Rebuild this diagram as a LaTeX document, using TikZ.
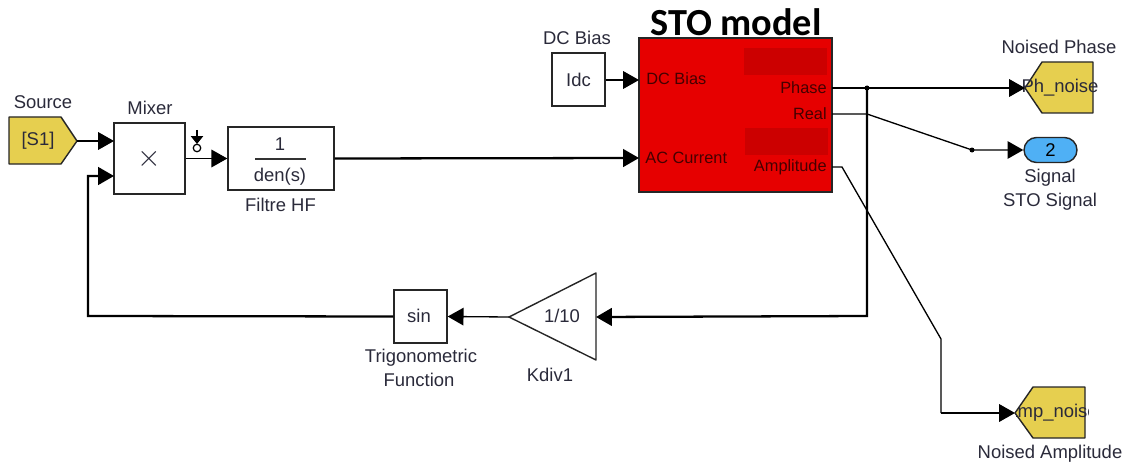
\documentclass[tikz,border=0pt]{standalone}
\usepackage{fontspec}
\setmainfont{Liberation Sans}
\newfontfamily\titlefont{Carlito}
\usepackage{xcolor}
\usetikzlibrary{arrows.meta,shapes.misc}
\definecolor{gotoyellow}{HTML}{E6CF4F}
\definecolor{stored}{HTML}{E60000}
\definecolor{stodark}{HTML}{CC0000}
\definecolor{portblue}{HTML}{4FB0F5}
\definecolor{inkgrey}{HTML}{2A2A3A}
\tikzset{
  block/.style={draw=black!85,line width=0.8pt,fill=white,inner sep=0pt},
  goto/.style={draw=black!85,line width=0.8pt,fill=gotoyellow,line join=round},
  wire/.style={line width=0.75pt,-{Triangle[length=9pt,width=10pt]}},
  wirefat/.style={wire,line width=1.3pt},
  plainwire/.style={line width=0.75pt},
  lbl/.style={font=\fontsize{10.5}{12}\selectfont,text=inkgrey,inner sep=0pt},
  stolbl/.style={font=\fontsize{9.3}{11}\selectfont,text=black!70!stored,inner sep=0pt}
}

\begin{document}
\begin{tikzpicture}[x=0.02cm,y=-0.02cm]
    \useasboundingbox (0,0) rectangle (1129,466);
    % left part
    \draw[goto] (9,117) -- (61,117) -- (77,141) -- (61,164) -- (9,164) -- cycle;
    \coordinate (sourcetip) at (77,141);
    \node[lbl] (sourcetext) at (38,141) {[S1]};
    \node[lbl] (sourcelbl) at (43,102) {Source};
    \node[block,minimum width=1.42cm,minimum height=1.42cm] (mixer) at (149.5,158.5) {};
    \node[inner sep=0pt,text=inkgrey,font=\LARGE] (mixertext) at (149.5,158.5) {$\times$};
    \node[lbl] (mixerlbl) at (150,108) {Mixer};
    \coordinate (mixerin1) at (114,141);
    \coordinate (mixerin2) at (114,176);
    \node[block,minimum width=2.12cm,minimum height=1.26cm] (filter) at (281,158.5) {};
    \node[lbl] (filtertop) at (280,144) {1};
    \node[lbl] (filterbot) at (280,177) {den(s)};
    \coordinate (barleft) at (255,159);
    \coordinate (barright) at (306,159);
    \draw[line width=0.8pt,black!80] (barleft) -- (barright);
    \node[lbl] (filterlbl) at (280.5,205) {Filtre HF};
    \coordinate (probetop) at (197,130);
    \coordinate (probeend) at (197,144);
    \draw[line width=0.7pt,-{Triangle[length=4.5pt,width=7pt]}] (probetop) -- (probeend);
    \node[draw,circle,line width=0.7pt,minimum size=0.15cm,inner sep=0pt] (probe) at (197,148) {};
    % STO block
    \node[block,fill=stored,minimum width=3.86cm,minimum height=3.08cm] (sto) at (735.5,115) {};
    \fill[stodark] (744,48) rectangle (827,75);
    \fill[stodark] (745,128) rectangle (828,155);
    \node[font=\titlefont\bfseries\fontsize{21.8}{24}\selectfont,inner sep=0pt] (stotitle) at (736,22) {STO model};
    \node[stolbl,anchor=west] (dctext) at (646,79) {DC Bias};
    \node[stolbl,anchor=west] (actext) at (645,158) {AC Current};
    \node[stolbl,anchor=east] (phasetext) at (827,88) {Phase};
    \node[stolbl,anchor=east] (realtext) at (827,114) {Real};
    \node[stolbl,anchor=east] (amptext) at (827,167) {Amplitude};
    \coordinate (dcport) at (639,80);
    \coordinate (acport) at (639,158);
    \coordinate (phaseport) at (832,88);
    \coordinate (realport) at (832,114);
    \coordinate (ampport) at (832,167);
    \node[block,minimum width=1.06cm,minimum height=1.06cm] (idc) at (578.5,79.5) {};
    \node[lbl] (idctext) at (578.5,80) {Idc};
    \node[lbl] (idclbl) at (577,38) {DC Bias};
    % right part
    \draw[goto] (1093,62) -- (1042,62) -- (1025,88) -- (1042,113) -- (1093,113) -- cycle;
    \coordinate (phasetip) at (1025,88);
    \node[lbl] (phgoto) at (1060,88) {Ph\_noise};
    \node[lbl] (phlbl) at (1059,47) {Noised Phase};
    \node[draw=black!85,line width=0.8pt,fill=portblue,rounded rectangle,minimum width=1.06cm,minimum height=0.5cm,inner sep=0pt,font=\fontsize{10.5}{12}\selectfont] (outport) at (1050.5,150) {2};
    \node[lbl] (signallbl) at (1050,178) {Signal};
    \node[lbl] (stosignal) at (1050,202) {STO Signal};
    \draw[goto] (1085,387) -- (1033,387) -- (1015,413) -- (1033,438) -- (1085,438) -- cycle;
    \coordinate (amptip) at (1015,413);
    \begin{scope}
      \clip (1016,380) rectangle (1088,445);
      \node[lbl] (ampgoto) at (1051.5,413) {Amp\_noise};
    \end{scope}
    \node[lbl] (amplbl) at (1050,454) {Noised Amplitude};
    % feedback blocks
    \node[block,minimum width=1.06cm,minimum height=1.06cm] (sinblock) at (420.5,316.5) {};
    \node[lbl] (sintext) at (419,316) {sin};
    \node[lbl] (triglbl) at (421,358) {Trigonometric};
    \node[lbl] (funclbl) at (419,380) {Function};
    \coordinate (gainout) at (509,317);
    \coordinate (gainin) at (596,317);
    \draw[line width=0.8pt,black!85,fill=white,line join=round] (gainout) -- (596,273) -- (596,360) -- cycle;
    \node[lbl] (gaintext) at (562,316) {1/10};
    \node[lbl] (gainlbl) at (550,375) {Kdiv1};
    % wires
    \coordinate (junction) at (867,88);
    \coordinate (realbend) at (867,114);
    \coordinate (realdot) at (972,150);
    \coordinate (ampbend1) at (842,167);
    \coordinate (ampbend2) at (941,339);
    \coordinate (ampbend3) at (941,413);
    \coordinate (fbdown) at (867,316);
    \coordinate (fbleft) at (88,316);
    \coordinate (fbup) at (88,176);
    \draw[wire] (sourcetip) -- (mixerin1);
    \draw[wire] (mixer.east) -- (filter.west);
    \draw[wirefat] (filter.east) -- (acport);
    \draw[wire] (idc.east |- dcport) -- (dcport);
    \draw[wire] (phaseport) -- (phasetip);
    \fill (junction) circle (2.5);
    \fill (realdot) circle (2.5);
    \draw[wire] (realport) -- (realbend) -- (realdot) -- (outport.west);
    \draw[plainwire] (ampport) -- (ampbend1) -- (ampbend2) -- (ampbend3);
    \draw[wire] (ampbend3) -- (amptip);
    \draw[wirefat] (junction) -- (fbdown) -- (gainin);
    \draw[wire] (gainout) -- (sinblock.east);
    \draw[wirefat] (sinblock.west) -- (fbleft) -- (fbup) -- (mixerin2);
  \end{tikzpicture}
\end{document}
